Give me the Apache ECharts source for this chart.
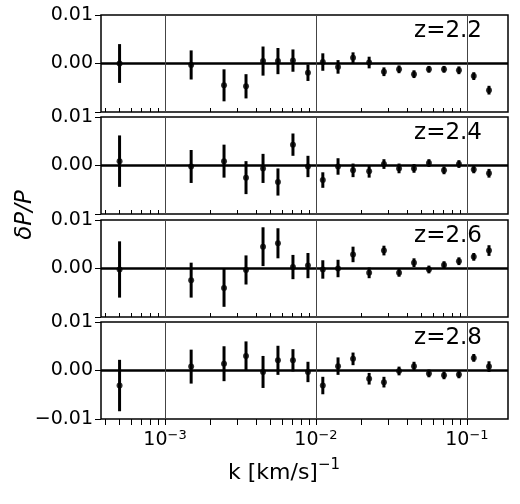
<!doctype html>
<html>
<head>
<meta charset="UTF-8">
<script src="https://cdn.jsdelivr.net/npm/echarts@6/dist/echarts.min.js"></script>
<style>html,body{margin:0;background:#fff}#c{width:520px;height:504px}</style>
</head>
<body>
<div id="c"></div>
<script>
var kValues = [0.0005, 0.00149, 0.00246, 0.00344, 0.00446, 0.0056, 0.00704, 0.00885, 0.0111, 0.014,
  0.0176, 0.0225, 0.0282, 0.0355, 0.0446, 0.056, 0.0705, 0.0885, 0.111, 0.14];
var redshifts = ['z=2.2', 'z=2.4', 'z=2.6', 'z=2.8'];
var dp22 = [0, -0.0003, -0.0045, -0.0047, 0.0005, 0.0005, 0.0006, -0.0019, 0.0003, -0.0007,
  0.0012, 0.0002, -0.0017, -0.0012, -0.0022, -0.0012, -0.0012, -0.0014, -0.0026, -0.0055];
var err22 = [0.004, 0.003, 0.0033, 0.0025, 0.003, 0.0027, 0.0023, 0.0017, 0.0018, 0.0014,
  0.0011, 0.0012, 0.0009, 0.0008, 0.0008, 0.0007, 0.0007, 0.0008, 0.0008, 0.0009];
var dp24 = [0.0009, -0.0002, 0.0009, -0.0025, -0.0006, -0.0034, 0.0043, -0.0002, -0.003, -0.0002,
  -0.001, -0.0012, 0.0003, -0.0006, -0.0006, 0.0005, -0.001, 0.0003, -0.0008, -0.0016];
var err24 = [0.0053, 0.0034, 0.0034, 0.0034, 0.003, 0.0028, 0.0023, 0.0022, 0.0016, 0.0017,
  0.0014, 0.0013, 0.001, 0.001, 0.0009, 0.0008, 0.0008, 0.0008, 0.0008, 0.0009];
var dp26 = [-0.0002, -0.0024, -0.004, -0.0003, 0.0045, 0.0052, 0.0003, 0.0006, -0.0002, 0,
  0.0029, -0.0009, 0.0037, -0.0009, 0.0012, -0.0002, 0.0007, 0.0015, 0.0024, 0.0037];
var err26 = [0.0058, 0.0036, 0.0039, 0.003, 0.004, 0.0031, 0.0025, 0.0026, 0.0019, 0.0018,
  0.0016, 0.0011, 0.001, 0.0008, 0.0009, 0.0008, 0.0008, 0.0008, 0.0008, 0.0011];
var dp28 = [-0.0031, 0.0008, 0.0014, 0.003, -0.0003, 0.0021, 0.0021, -0.0003, -0.0031, 0.0009,
  0.0024, -0.0017, -0.0024, -0.0001, 0.0009, -0.0006, -0.001, -0.0008, 0.0026, 0.0008];
var err28 = [0.0053, 0.0035, 0.0036, 0.003, 0.0033, 0.003, 0.0023, 0.0021, 0.0018, 0.0018,
  0.0013, 0.0012, 0.0011, 0.0009, 0.0009, 0.0008, 0.0008, 0.0008, 0.0008, 0.0011];
var values = [dp22, dp24, dp26, dp28];
var errors = [err22, err24, err26, err28];
var decades = [-3, -2, -1];

var chart = echarts.init(document.getElementById('c'));
var tops = [15, 117, 220, 322];
var minorTicks = [];
for (var d = -4; d <= -1; d++) {
  for (var m = 1; m <= 9; m++) minorTicks.push(d + Math.log10(m));
}
var grids = [], xAxes = [], yAxes = [], series = [], graphics = [];
tops.forEach(function(top, i) {
  var last = i === 3;
  grids.push({left: 101, right: 12, top: top, height: 97, show: true, borderColor: '#000', borderWidth: 1.5, backgroundColor: 'transparent'});
  xAxes.push({
    type: 'value', gridIndex: i, min: -3.424, max: -0.728,
    axisLine: {show: false, onZero: false},
    axisTick: {show: true, inside: !last, length: last ? 6 : 4, customValues: minorTicks, lineStyle: {color: '#000'}},
    axisLabel: {show: last, customValues: decades, fontSize: 19, color: '#000', margin: 10,
      formatter: function(v) { return '10{s|' + String(v).replace('-', '−') + '}'; },
      rich: {s: {fontSize: 13, verticalAlign: 'top', padding: [0, 0, 10, 0]}}},
    splitLine: {show: false}
  });
  yAxes.push({
    type: 'value', gridIndex: i, min: -0.01, max: 0.01, interval: 0.01,
    axisLine: {show: false, onZero: false},
    axisTick: {show: true, length: 6, lineStyle: {color: '#000'}},
    axisLabel: {fontSize: 19, color: '#000', margin: 8,
      formatter: function(v) {
        if (v < 0 && !last) return '';
        return (v < 0 ? '−' : '') + Math.abs(v).toFixed(2);
      }},
    splitLine: {show: false}
  });
  var pts = kValues.map(function(k, j) { return [Math.log10(k), values[i][j], errors[i][j]]; });
  series.push({
    type: 'custom', xAxisIndex: i, yAxisIndex: i, data: pts,
    renderItem: function(params, api) {
      var a = api.coord([api.value(0), api.value(1) - api.value(2)]);
      var b = api.coord([api.value(0), api.value(1) + api.value(2)]);
      return {type: 'line', shape: {x1: a[0], y1: a[1], x2: b[0], y2: b[1]}, style: {stroke: '#000', lineWidth: 3}};
    },
    markLine: {
      silent: true, symbol: 'none', label: {show: false},
      data: [{yAxis: 0, lineStyle: {color: '#000', width: 2.5, type: 'solid'}}]
        .concat(decades.map(function(v) { return {xAxis: v, lineStyle: {color: '#444', width: 1, type: 'solid'}}; }))
    },
    z: 3
  });
  series.push({
    type: 'scatter', xAxisIndex: i, yAxisIndex: i, symbolSize: 6,
    itemStyle: {color: '#000'}, data: pts.map(function(p) { return [p[0], p[1]]; }), z: 4
  });
  graphics.push({type: 'text', right: 38, top: top + 5, style: {text: redshifts[i], fontSize: 23, fill: '#000', fontFamily: 'DejaVu Sans'}});
});
graphics.push({type: 'text', x: 25, y: 215, rotation: Math.PI / 2, style: {text: 'δP/P', fontSize: 23, fontStyle: 'italic', fill: '#000', fontFamily: 'DejaVu Sans', align: 'center', verticalAlign: 'middle'}});
graphics.push({type: 'text', left: 228, top: 462, style: {text: 'k [km/s]', fontSize: 22, fill: '#000', fontFamily: 'DejaVu Sans'}});
graphics.push({type: 'text', left: 318, top: 458, style: {text: '−1', fontSize: 15, fill: '#000', fontFamily: 'DejaVu Sans'}});

chart.setOption({
  animation: false,
  textStyle: {fontFamily: 'DejaVu Sans'},
  grid: grids, xAxis: xAxes, yAxis: yAxes, series: series, graphic: graphics
});
</script>
</body>
</html>
